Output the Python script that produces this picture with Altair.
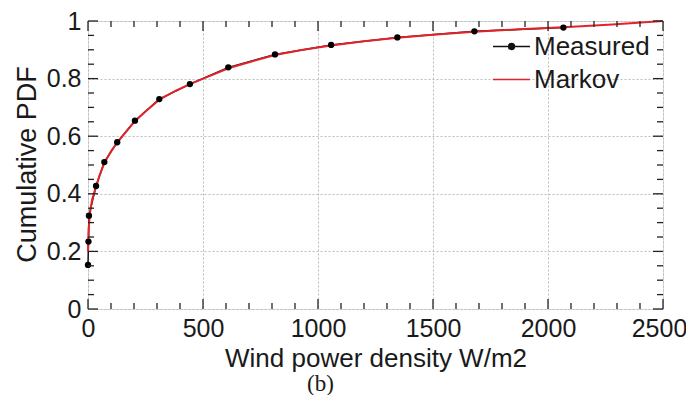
import altair as alt
import pandas as pd

# ---- data ----
meas_x = [0, 2, 4, 35, 71, 127, 204, 310, 443, 610, 813, 1057, 1345, 1680, 2067]
meas_y = [0.153, 0.234, 0.324, 0.427, 0.510, 0.579, 0.654, 0.729, 0.781, 0.839,
          0.884, 0.917, 0.943, 0.964, 0.977]

markov_x = [0, 3, 8, 18, 35, 50, 71, 100, 127, 160, 204, 250, 310, 380, 443, 520,
            610, 700, 813, 930, 1057, 1200, 1345, 1500, 1680, 1870, 2067, 2280, 2500]
markov_y = [0.200, 0.280, 0.330, 0.380, 0.425, 0.463, 0.507, 0.548, 0.578, 0.610,
            0.652, 0.686, 0.727, 0.757, 0.781, 0.806, 0.836, 0.857, 0.882, 0.899,
            0.915, 0.930, 0.942, 0.952, 0.963, 0.971, 0.978, 0.988, 1.000]

series_names = ["Measured", "Markov"]
series_colors = ["#111111", "#e3232b"]

x_major = [0, 500, 1000, 1500, 2000, 2500]
x_minor = [v for v in range(0, 2501, 100) if v % 500 != 0]
y_major = [0, 0.2, 0.4, 0.6, 0.8, 1.0]
y_minor = [round(i * 0.05, 2) for i in range(21) if i % 4 != 0]

W, H = 575, 288
FONT = "Liberation Sans"

meas = pd.DataFrame({"x": meas_x, "y": meas_y})
markov = pd.DataFrame({"x": markov_x, "y": markov_y})

xs = alt.Scale(domain=[0, 2500], nice=False, zero=False)
ys = alt.Scale(domain=[0, 1], nice=False, zero=False)

x_axis = alt.Axis(values=x_major, title="Wind power density W/m2", grid=True, format="d",
                  ticks=False, tickSize=0, domain=False, labelPadding=7,
                  labelOffset={"condition": {"test": "datum.value == 2500", "value": -4},
                               "value": 0},
                  labelFontSize=25, labelFont=FONT, labelColor="#1a1a1a",
                  titleFontSize=26, titleFont=FONT, titleFontWeight="normal",
                  titleColor="#1a1a1a", titleBaseline="alphabetic", titleY=57,
                  gridColor="#bdbdbd", gridDash=[2, 2], gridWidth=1, labelFlush=False)
y_axis = alt.Axis(values=y_major, title="Cumulative PDF", grid=True, format="~g",
                  ticks=False, tickSize=0, domain=False, labelPadding=7,
                  labelFontSize=25, labelFont=FONT, labelColor="#1a1a1a",
                  titleFontSize=27, titleFont=FONT, titleFontWeight="normal",
                  titleColor="#1a1a1a", titleBaseline="alphabetic", titleX=-53,
                  titleY=143, gridColor="#bdbdbd", gridDash=[2, 2], gridWidth=1,
                  labelFlush=False)

meas_line = alt.Chart(meas).mark_line(color="#111111", strokeWidth=1.5).encode(
    x=alt.X("x:Q", scale=xs, axis=x_axis),
    y=alt.Y("y:Q", scale=ys, axis=y_axis),
)
markov_line = alt.Chart(markov).mark_line(color="#e3232b", strokeWidth=2).encode(
    x=alt.X("x:Q", scale=xs), y=alt.Y("y:Q", scale=ys)
)
meas_pts = alt.Chart(meas).mark_circle(color="#000000", opacity=1, size=40).encode(
    x=alt.X("x:Q", scale=xs), y=alt.Y("y:Q", scale=ys)
)

# legend symbols: line with solid dot, plain line (unit coords, scaled by symbol size)
dot_path = ("M-1,0L1,0"
            "M-0.16,0a0.16,0.16 0 1,0 0.32,0a0.16,0.16 0 1,0 -0.32,0"
            "M-0.09,0a0.09,0.09 0 1,0 0.18,0a0.09,0.09 0 1,0 -0.18,0"
            "M-0.03,0a0.03,0.03 0 1,0 0.06,0a0.03,0.03 0 1,0 -0.06,0")
line_path = "M-1,0L1,0"

leg_kw = dict(title=None, orient="none", legendX=404, legendY=6, padding=0,
              symbolSize=1369, symbolStrokeWidth=1.5, symbolOpacity=1,
              labelFontSize=26, labelFont=FONT, labelColor="#1a1a1a",
              labelOffset=3, rowPadding=-2)
legend_layer = alt.Chart(pd.DataFrame({"series": series_names})).mark_point(
    opacity=0, filled=False, strokeWidth=1.5
).encode(
    color=alt.Color("series:N", scale=alt.Scale(domain=series_names, range=series_colors),
                    legend=alt.Legend(**leg_kw)),
    shape=alt.Shape("series:N", scale=alt.Scale(domain=series_names, range=[dot_path, line_path]),
                    legend=alt.Legend(**leg_kw)),
)


def tick_layer(vals, field, side, length):
    df = pd.DataFrame({field: vals})
    base = alt.Chart(df).mark_rule(color="#222222", strokeWidth=1.3)
    if field == "x":
        enc = dict(x=alt.X("x:Q", scale=xs))
        if side == "bottom":
            enc.update(y=alt.value(H), y2=alt.value(H - length))
        else:
            enc.update(y=alt.value(0), y2=alt.value(length))
    else:
        enc = dict(y=alt.Y("y:Q", scale=ys))
        if side == "left":
            enc.update(x=alt.value(0), x2=alt.value(length))
        else:
            enc.update(x=alt.value(W), x2=alt.value(W - length))
    return base.encode(**enc)


ticks = [
    tick_layer(x_major, "x", "bottom", 10), tick_layer(x_minor, "x", "bottom", 6),
    tick_layer(x_major, "x", "top", 10), tick_layer(x_minor, "x", "top", 6),
    tick_layer(y_major, "y", "left", 10), tick_layer(y_minor, "y", "left", 6),
    tick_layer(y_major, "y", "right", 10), tick_layer(y_minor, "y", "right", 6),
]

chart = alt.layer(meas_line, markov_line, meas_pts, *ticks, legend_layer).properties(
    width=W, height=H,
    padding={"left": 80, "top": 13, "right": 23, "bottom": 86},
    autosize=alt.AutoSizeParams(type="none"),
    title=alt.TitleParams(text="(b)", orient="bottom", anchor="middle", dx=-55,
                          offset=20, baseline="alphabetic", font="Liberation Serif",
                          fontSize=23, fontWeight="normal", color="#1a1a1a"),
).configure_view(stroke="#222222", strokeWidth=1.5).configure(background="white")

chart.save("out.html", embed_options={"renderer": "svg", "actions": False})
